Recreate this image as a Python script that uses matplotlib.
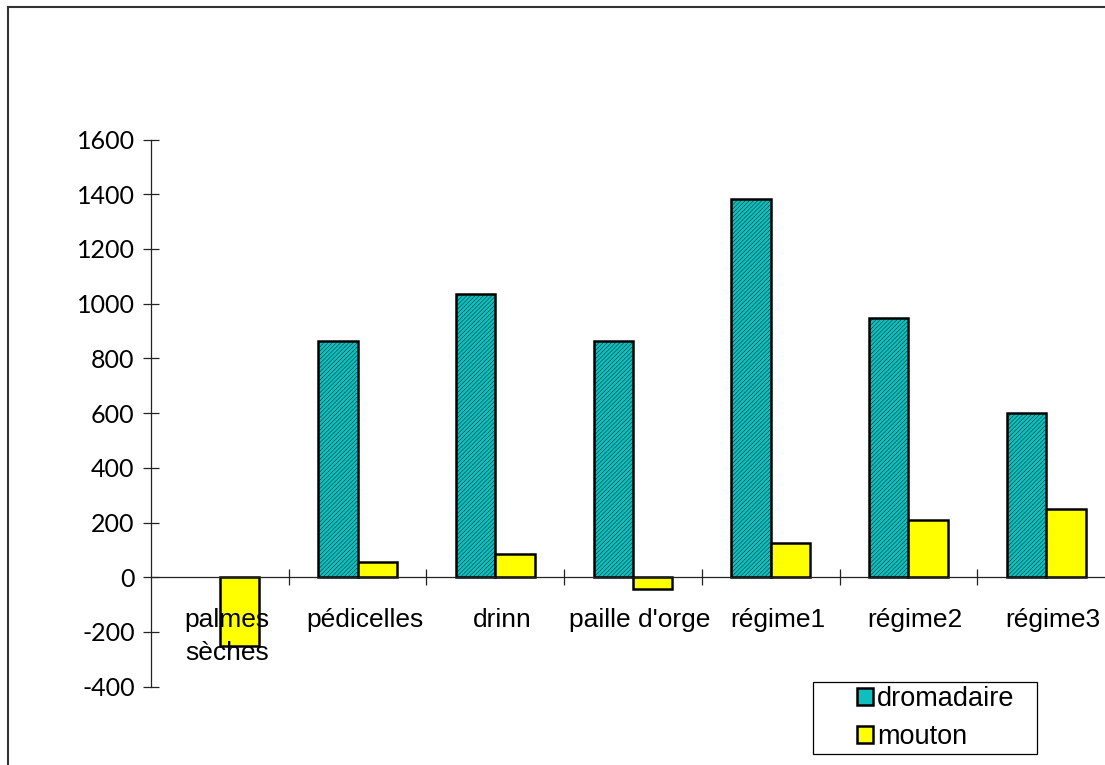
import matplotlib.pyplot as plt
import numpy as np
from matplotlib.lines import Line2D
from matplotlib.patches import Patch, Rectangle

categories = ["palmes\nsèches", "pédicelles", "drinn", "paille d'orge",
              "régime1", "régime2", "régime3"]
dromadaire = [np.nan, 862, 1037, 862, 1383, 948, 602]
mouton = [-253, 55, 84, -43, 125, 208, 249]
yticks = [-400, -200, 0, 200, 400, 600, 800, 1000, 1200, 1400, 1600]

TEAL = "#0DC0C0"
YELLOW = "#FFFF00"
W, H = 1105, 765


def main():
    plt.rcParams["hatch.color"] = "#18B0B0"
    plt.rcParams["hatch.linewidth"] = 0.3

    fig = plt.figure(figsize=(W / 100, H / 100), dpi=100)
    ax = fig.add_axes([0.1367, 0.1024, 0.8724, 0.7152])

    n = len(categories)
    centers = np.arange(n) + 0.5
    w = 0.286

    ax.bar(centers - w / 2, dromadaire, width=w, color=TEAL, edgecolor="black",
           linewidth=1.8, hatch="////////", zorder=2)
    ax.bar(centers + w / 2, mouton, width=w, color=YELLOW, edgecolor="black",
           linewidth=1.8, zorder=2)

    ax.set_xlim(0, n)
    ax.set_ylim(-400, 1600)

    # axes: y on the left, x line sits at zero
    for side in ("top", "right"):
        ax.spines[side].set_visible(False)
    ax.spines["bottom"].set_position(("data", 0))
    for side in ("left", "bottom"):
        ax.spines[side].set_color("#222222")
        ax.spines[side].set_linewidth(0.9)

    ax.set_yticks(yticks)
    ax.set_yticklabels([str(v) for v in yticks], fontfamily="Lato", fontsize=18)
    ax.set_xticks(np.arange(1, n + 1))
    ax.set_xticklabels([])
    ax.tick_params(axis="both", direction="inout", length=11.5, width=0.9,
                   color="#222222")
    ax.tick_params(axis="y", pad=6)

    for c, label in zip(centers, categories):
        ax.text(c + 0.05, -112, label, ha="center", va="top", fontsize=19,
                family="Liberation Sans", linespacing=1.5, zorder=5)

    # legend box drawn separately, entries placed inside it
    fig.add_artist(Rectangle((813 / W, 1 - 754 / H), 224 / W, 72 / H,
                             transform=fig.transFigure, facecolor="white",
                             edgecolor="black", linewidth=0.9, zorder=5))
    handles = [Patch(facecolor=TEAL, edgecolor="black", linewidth=1.8),
               Patch(facecolor=YELLOW, edgecolor="black", linewidth=1.8)]
    leg = fig.legend(handles, ["dromadaire", "mouton"], loc="upper left",
                     bbox_to_anchor=(857 / W, 1 - 686 / H),
                     prop={"family": "Liberation Sans", "size": 19.5},
                     handlelength=0.6, handleheight=0.6, handletextpad=0.15,
                     labelspacing=0.45, borderpad=0, borderaxespad=0,
                     frameon=False)
    leg.set_zorder(6)

    # chart area border (left and top edges fall inside the image)
    x0 = 8 / W
    y0 = 1 - 7 / H
    fig.add_artist(Line2D([x0, x0], [0, y0], color="#333333", linewidth=1.5,
                          transform=fig.transFigure))
    fig.add_artist(Line2D([x0, 1], [y0, y0], color="#333333", linewidth=1.5,
                          transform=fig.transFigure))

    fig.savefig("out.png", dpi=100)


if __name__ == "__main__":
    main()
